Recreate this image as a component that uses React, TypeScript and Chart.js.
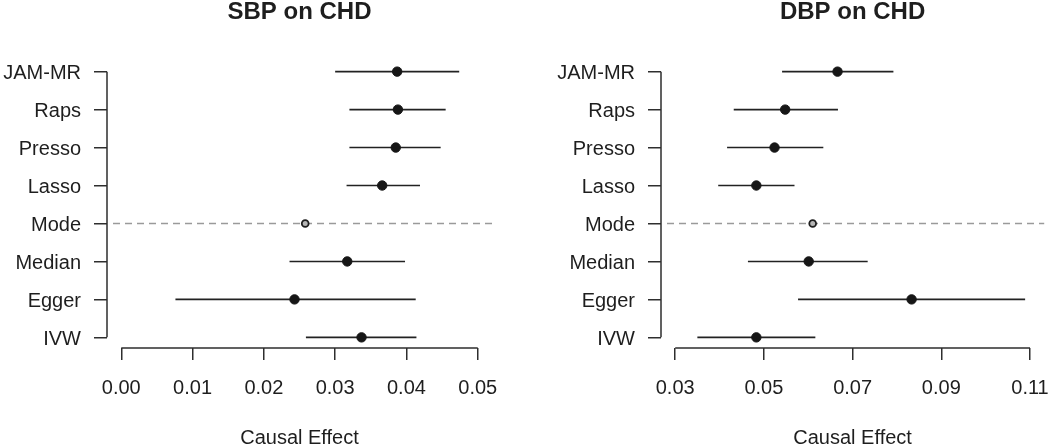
import React, { useEffect, useRef } from 'react';
import { Chart, registerables } from 'chart.js';

Chart.register(...registerables);

const METHODS = ['JAM-MR', 'Raps', 'Presso', 'Lasso', 'Mode', 'Median', 'Egger', 'IVW'];
const REF_METHOD = 'Mode';

const SBP_EST = [0.0387, 0.0388, 0.0385, 0.0366, 0.0258, 0.0317, 0.0243, 0.0337];
const SBP_LO = [0.03, 0.032, 0.032, 0.0316, null, 0.0236, 0.0076, 0.0259];
const SBP_HI = [0.0474, 0.0455, 0.0448, 0.0419, null, 0.0398, 0.0413, 0.0414];
const SBP_TICKS = [0, 0.01, 0.02, 0.03, 0.04, 0.05];
const SBP_TICK_LABELS = ['0.00', '0.01', '0.02', '0.03', '0.04', '0.05'];

const DBP_EST = [0.0666, 0.0548, 0.0524, 0.0483, 0.061, 0.0601, 0.0833, 0.0483];
const DBP_LO = [0.0541, 0.0432, 0.0417, 0.0397, null, 0.0464, 0.0577, 0.035];
const DBP_HI = [0.0792, 0.0667, 0.0634, 0.0569, null, 0.0734, 0.1089, 0.0616];
const DBP_TICKS = [0.03, 0.05, 0.07, 0.09, 0.11];
const DBP_TICK_LABELS = ['0.03', '0.05', '0.07', '0.09', '0.11'];

const FONT = '"Liberation Sans", Arial, Helvetica, sans-serif';
const TEXT = '#1e1e1e';
const AXIS = '#2e2e2e';
const MARK = '#161616';

type PanelProps = {
  title: string;
  est: number[];
  lo: (number | null)[];
  hi: (number | null)[];
  ticks: number[];
  tickLabels: string[];
  yAxisWidth: number;
  padRight: number;
};

function Panel(props: PanelProps) {
  const ref = useRef<HTMLCanvasElement | null>(null);
  useEffect(() => {
    const canvas = ref.current;
    if (!canvas) return;
    const { title, est, lo, hi, ticks, tickLabels, yAxisWidth, padRight } = props;
    const n = METHODS.length;
    const refIdx = METHODS.indexOf(REF_METHOD);
    const tRange = ticks[ticks.length - 1] - ticks[0];
    const xMin = ticks[0] - 0.04 * tRange;
    const xMax = ticks[ticks.length - 1] + 0.04 * tRange;
    const yMin = 1 - 0.04 * (n - 1);
    const yMax = n + 0.04 * (n - 1);

    const pointData = est.map((v, i) => ({ x: v, y: i + 1 }));
    const ciSets: any[] = [];
    for (let i = 0; i < n; i++) {
      if (lo[i] == null || hi[i] == null) continue;
      ciSets.push({
        data: [
          { x: lo[i], y: i + 1 },
          { x: hi[i], y: i + 1 },
        ],
        showLine: true,
        borderColor: '#222222',
        borderWidth: 1.6,
        pointRadius: 0,
        order: 2,
      });
    }

    const axisPlugin = {
      id: 'rAxes',
      beforeDatasetsDraw(chart: any) {
        const { ctx, chartArea, scales } = chart;
        const y = scales.y.getPixelForValue(refIdx + 1);
        ctx.save();
        ctx.strokeStyle = '#9a9a9a';
        ctx.lineWidth = 1.5;
        ctx.setLineDash([7, 5]);
        ctx.beginPath();
        ctx.moveTo(chartArea.left + 6, y);
        ctx.lineTo(chartArea.right, y);
        ctx.stroke();
        ctx.restore();
      },
      afterDraw(chart: any) {
        const { ctx, chartArea, scales } = chart;
        ctx.save();
        ctx.strokeStyle = AXIS;
        ctx.lineWidth = 1.5;
        ctx.beginPath();
        const x0 = scales.x.getPixelForValue(ticks[0]);
        const x1 = scales.x.getPixelForValue(ticks[ticks.length - 1]);
        ctx.moveTo(x0, chartArea.bottom);
        ctx.lineTo(x1, chartArea.bottom);
        const y0 = scales.y.getPixelForValue(1);
        const y1 = scales.y.getPixelForValue(n);
        ctx.moveTo(chartArea.left, y0);
        ctx.lineTo(chartArea.left, y1);
        ctx.stroke();
        ctx.restore();
      },
    };

    const chart = new Chart(canvas, {
      type: 'scatter',
      data: {
        datasets: [
          {
            data: pointData,
            pointRadius: est.map((_, i) => (i === refIdx ? 3.4 : 4.7)),
            pointBackgroundColor: est.map((_, i) => (i === refIdx ? '#b5b5b5' : MARK)),
            pointBorderColor: est.map((_, i) => (i === refIdx ? '#1e1e1e' : MARK)),
            pointBorderWidth: est.map((_, i) => (i === refIdx ? 1.8 : 1)),
            order: 1,
          } as any,
          ...ciSets,
        ],
      },
      options: {
        responsive: false,
        animation: false,
        devicePixelRatio: 1,
        layout: { padding: { left: 0, right: padRight, top: 0, bottom: 0 } },
        plugins: {
          legend: { display: false },
          tooltip: { enabled: false },
          title: {
            display: true,
            text: title,
            fullSize: false,
            color: TEXT,
            font: { family: FONT, size: 24, weight: 'bold' },
            padding: { top: -2, bottom: 34.2 },
          },
        },
        scales: {
          x: {
            type: 'linear',
            min: xMin,
            max: xMax,
            afterBuildTicks: (s: any) => {
              s.ticks = ticks.map((v) => ({ value: v }));
            },
            afterFit: (s: any) => {
              s.height = 98;
              s.paddingLeft = 0;
              s.paddingRight = 0;
            },
            ticks: {
              autoSkip: false,
              maxRotation: 0,
              padding: 16,
              color: TEXT,
              font: { family: FONT, size: 20 },
              callback: (_v: any, i: number) => tickLabels[i],
            },
            grid: {
              drawOnChartArea: false,
              drawTicks: true,
              tickLength: 12,
              color: AXIS,
              lineWidth: 1.5,
            },
            border: { display: false },
            title: {
              display: true,
              text: 'Causal Effect',
              color: TEXT,
              font: { family: FONT, size: 20, lineHeight: 0.75 },
              padding: 0,
            },
          },
          y: {
            type: 'linear',
            reverse: true,
            min: yMin,
            max: yMax,
            afterBuildTicks: (s: any) => {
              s.ticks = METHODS.map((_, i) => ({ value: i + 1 }));
            },
            afterFit: (s: any) => {
              s.width = yAxisWidth;
              s.paddingTop = 0;
              s.paddingBottom = 0;
            },
            ticks: {
              autoSkip: false,
              padding: 13,
              labelOffset: 2,
              color: TEXT,
              font: { family: FONT, size: 20 },
              callback: (v: any) => METHODS[Math.round(Number(v)) - 1],
            },
            grid: {
              drawOnChartArea: false,
              drawTicks: true,
              tickLength: 13,
              color: AXIS,
              lineWidth: 1.5,
            },
            border: { display: false },
          },
        },
      },
      plugins: [axisPlugin],
    } as any);
    return () => chart.destroy();
  }, []);
  return <canvas ref={ref} width={525} height={446} style={{ display: 'block', width: 525, height: 446 }} />;
}

export default function App() {
  return (
    <div
      style={{
        position: 'absolute',
        left: 0,
        top: 0,
        width: 1050,
        height: 446,
        display: 'flex',
        overflow: 'hidden',
        background: '#ffffff',
      }}
    >
      <Panel
        title="SBP on CHD"
        est={SBP_EST}
        lo={SBP_LO}
        hi={SBP_HI}
        ticks={SBP_TICKS}
        tickLabels={SBP_TICK_LABELS}
        yAxisWidth={107}
        padRight={33}
      />
      <Panel
        title="DBP on CHD"
        est={DBP_EST}
        lo={DBP_LO}
        hi={DBP_HI}
        ticks={DBP_TICKS}
        tickLabels={DBP_TICK_LABELS}
        yAxisWidth={136}
        padRight={4}
      />
    </div>
  );
}
